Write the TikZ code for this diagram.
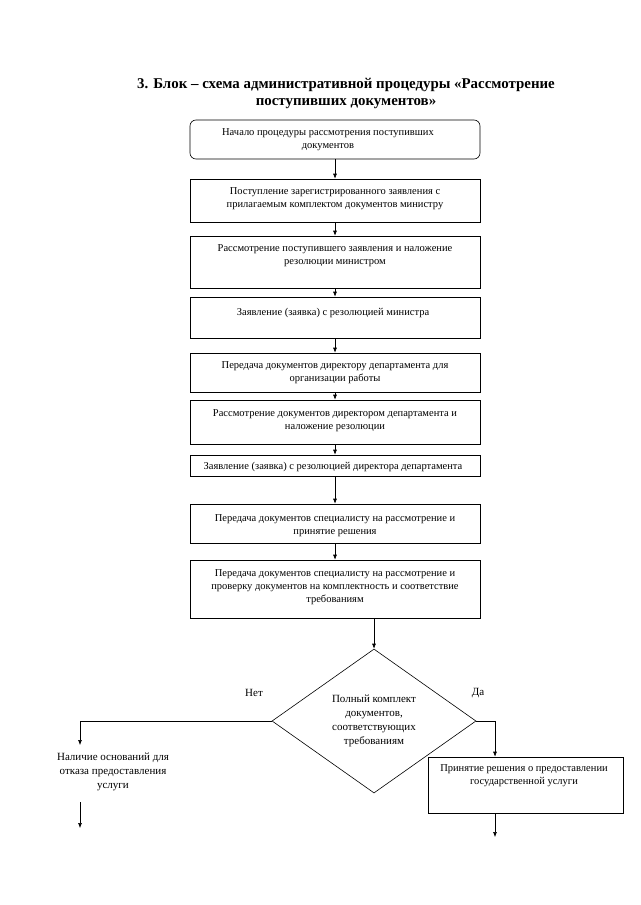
\documentclass[tikz,border=0pt]{standalone}
\usepackage{fontspec}
\setmainfont{Liberation Serif}
\usetikzlibrary{shapes.geometric,arrows.meta}
\begin{document}
\begin{tikzpicture}[x=1pt,y=-1pt,
  box/.style={draw, line width=0.6pt, inner sep=0pt},
  txt/.style={align=center, font=\fontsize{10.5}{13}\selectfont, inner sep=0pt},
  lbl/.style={align=center, font=\fontsize{11}{14}\selectfont, inner sep=0pt},
  arr/.style={-{Latex[length=5pt,width=4pt]}, line width=0.6pt},
  ln/.style={line width=0.6pt}]
\useasboundingbox (0,0) rectangle (640,905);
\node[font=\bfseries\fontsize{14.9}{17}\selectfont, align=center, inner sep=0pt] (title) at (346,93)
  {3. Блок – схема административной процедуры «Рассмотрение\\поступивших документов»};

\node[box, rounded corners=6pt, minimum width=290pt, minimum height=39pt] (b1) at (335,139.5) {};
\node[txt] (t1) at (328,140) {Начало процедуры рассмотрения поступивших\\документов};

\node[box, minimum width=290pt, minimum height=43pt] (b2) at (335,200.5) {};
\node[txt] (t2) at (335,198.5) {Поступление зарегистрированного заявления с\\прилагаемым комплектом документов министру};

\node[box, minimum width=290pt, minimum height=52pt] (b3) at (335,262) {};
\node[txt] (t3) at (335,256) {Рассмотрение поступившего заявления и наложение\\резолюции министром};

\node[box, minimum width=290pt, minimum height=41pt] (b4) at (335,317.5) {};
\node[txt] (t4) at (333,312.5) {Заявление (заявка) с резолюцией министра};

\node[box, minimum width=290pt, minimum height=39pt] (b5) at (335,372.5) {};
\node[txt] (t5) at (335,373) {Передача документов директору департамента для\\организации работы};

\node[box, minimum width=290pt, minimum height=44pt] (b6) at (335,422) {};
\node[txt] (t6) at (335,420.5) {Рассмотрение документов директором департамента и\\наложение резолюции};

\node[box, minimum width=290pt, minimum height=21pt] (b7) at (335,465.5) {};
\node[txt] (t7) at (333,467) {Заявление (заявка) с резолюцией директора департамента};

\node[box, minimum width=290pt, minimum height=39pt] (b8) at (335,523.5) {};
\node[txt] (t8) at (335,525.5) {Передача документов специалисту на рассмотрение и\\принятие решения};

\node[box, minimum width=290pt, minimum height=58pt] (b9) at (335,589) {};
\node[txt] (t9) at (335,587.5) {Передача документов специалисту на рассмотрение и\\проверку документов на комплектность и соответствие\\требованиям};

\node[draw, diamond, line width=0.6pt, inner sep=0pt, minimum width=204pt, minimum height=144pt,
      align=center, font=\fontsize{11}{14}\selectfont] (d) at (374,721)
  {Полный комплект\\документов,\\соответствующих\\требованиям};

\node[box, minimum width=195pt, minimum height=56pt] (b10) at (525.5,785) {};
\node[txt] (t10) at (524,776) {Принятие решения о предоставлении\\государственной услуги};

\node[lbl] (nt) at (113,772) {Наличие оснований для\\отказа предоставления\\услуги};
\node[lbl] (no) at (254,693) {Нет};
\node[lbl] (yes) at (478,693) {Да};

\draw[arr] (b1) -- (b2);
\draw[arr] (b2) -- (b3);
\draw[arr] (b3) -- (b4);
\draw[arr] (b4) -- (b5);
\draw[arr] (b5) -- (b6);
\draw[arr] (b6) -- (b7);
\draw[arr] (b7) -- (b8);
\draw[arr] (b8) -- (b9);
\draw[arr] (b9.south -| d.north) -- (d.north);

\coordinate (l1) at (80,745);
\coordinate (l2) at (80,802);
\coordinate (l3) at (80,828);
\draw[arr] (d.west) -| (l1);
\draw[arr] (l2) -- (l3);

\coordinate (r2) at (495,837);
\draw[arr] (d.east) -| ([xshift=-30.5pt]b10.north);
\draw[arr] ([xshift=-30.5pt]b10.south) -- (r2);
\end{tikzpicture}
\end{document}
